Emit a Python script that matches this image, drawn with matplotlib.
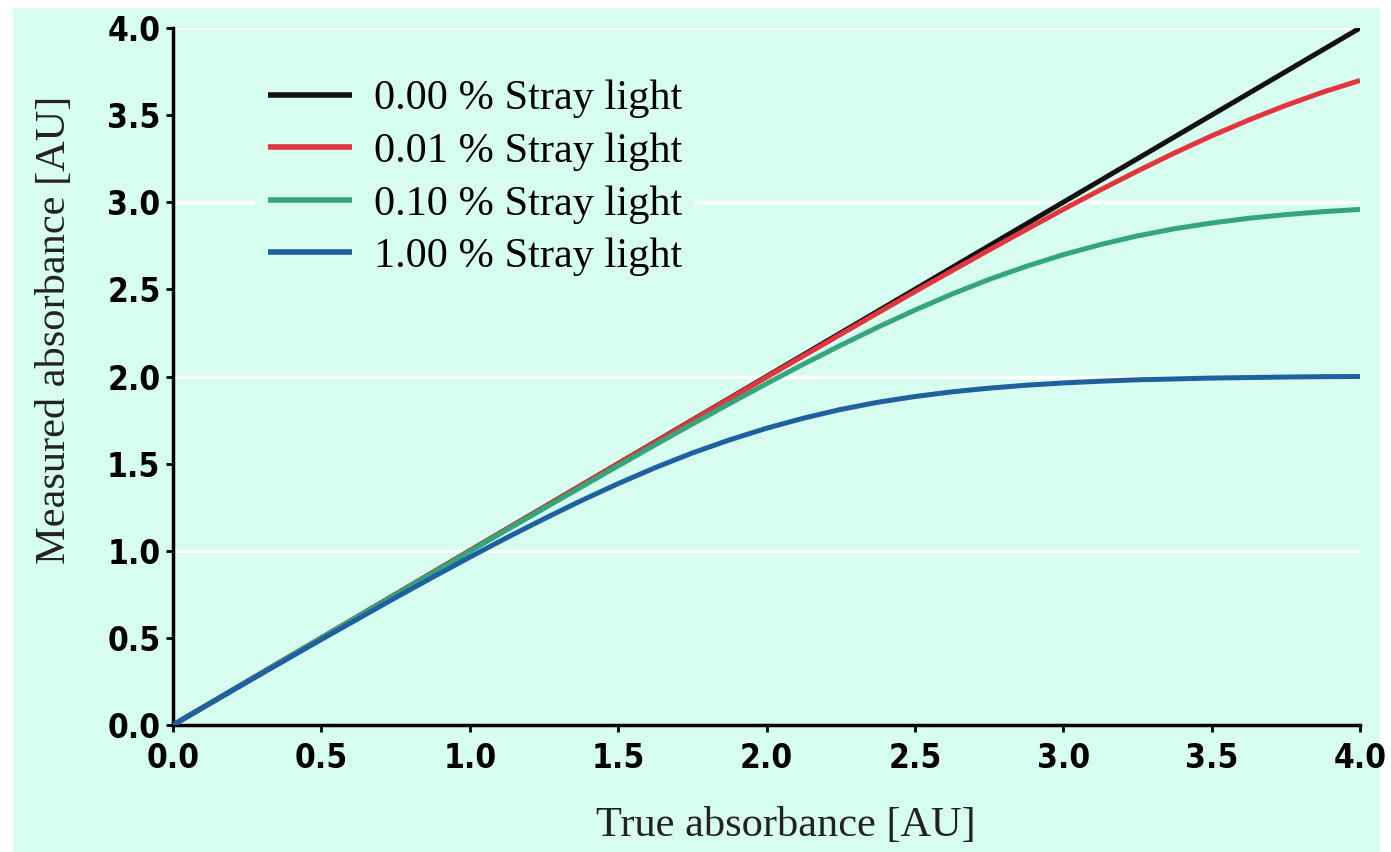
import matplotlib
matplotlib.use("Agg")
import matplotlib.pyplot as plt
from matplotlib import font_manager as fm
from matplotlib.patches import Rectangle

# values
true_abs = [0.0, 0.125, 0.25, 0.375, 0.5, 0.625, 0.75, 0.875, 1.0, 1.125,
            1.25, 1.375, 1.5, 1.625, 1.75, 1.875, 2.0, 2.125, 2.25, 2.375,
            2.5, 2.625, 2.75, 2.875, 3.0, 3.125, 3.25, 3.375, 3.5, 3.625,
            3.75, 3.875, 4.0]
stray_000 = [0.0, 0.125, 0.25, 0.375, 0.5, 0.625, 0.75, 0.875, 1.0, 1.125,
             1.25, 1.375, 1.5, 1.625, 1.75, 1.875, 2.0, 2.125, 2.25, 2.375,
             2.5, 2.625, 2.75, 2.875, 3.0, 3.125, 3.25, 3.375, 3.5, 3.625,
             3.75, 3.875, 4.0]
stray_001 = [0.0, 0.125, 0.25, 0.375, 0.5, 0.625, 0.75, 0.875, 1.0, 1.125,
             1.249, 1.374, 1.499, 1.623, 1.748, 1.872, 1.996, 2.119, 2.242,
             2.365, 2.487, 2.607, 2.726, 2.843, 2.959, 3.071, 3.179, 3.283,
             3.381, 3.472, 3.556, 3.632, 3.699]
stray_010 = [0.0, 0.125, 0.250, 0.374, 0.499, 0.624, 0.748, 0.872, 0.996,
             1.120, 1.243, 1.365, 1.487, 1.608, 1.727, 1.844, 1.959, 2.071,
             2.179, 2.283, 2.381, 2.473, 2.557, 2.632, 2.699, 2.757, 2.807,
             2.848, 2.881, 2.908, 2.929, 2.946, 2.959]
stray_100 = [0.0, 0.124, 0.247, 0.369, 0.491, 0.611, 0.731, 0.848, 0.963,
             1.075, 1.183, 1.287, 1.385, 1.477, 1.561, 1.636, 1.703, 1.761,
             1.811, 1.852, 1.885, 1.912, 1.933, 1.950, 1.963, 1.973, 1.981,
             1.986, 1.991, 1.994, 1.997, 1.999, 2.000]

labels = ["0.00 % Stray light", "0.01 % Stray light",
          "0.10 % Stray light", "1.00 % Stray light"]
colors = ["#111111", "#e2363c", "#35a67c", "#1f61a0"]
series = [stray_000, stray_001, stray_010, stray_100]

ticks = [0.0, 0.5, 1.0, 1.5, 2.0, 2.5, 3.0, 3.5, 4.0]
tick_labels = ["0.0", "0.5", "1.0", "1.5", "2.0", "2.5", "3.0", "3.5", "4.0"]

mint = "#d7fcf0"
serif = ["Liberation Serif", "DejaVu Serif"]

# condensed bold face for the tick numbers, if one is installed
tick_font = None
for key in ["LiberationSansNarrow-Bold.", "DejaVuSansCondensed-Bold.",
            "Condensed-Bold.", "Narrow-Bold."]:
    hits = [f.fname for f in fm.fontManager.ttflist if key in f.fname]
    if hits:
        tick_font = fm.FontProperties(fname=hits[0], size=24)
        break
if tick_font is None:
    tick_font = fm.FontProperties(family="DejaVu Sans", weight="bold",
                                  stretch="condensed", size=24)

fig = plt.figure(figsize=(13.91, 8.52), dpi=100)
fig.patch.set_facecolor("white")
fig.patches.append(Rectangle((13 / 1391, 0), (1380 - 13) / 1391, 1 - 8 / 852,
                             transform=fig.transFigure, facecolor=mint,
                             edgecolor="none", zorder=-10))

ax = fig.add_axes([173 / 1391, 1 - 725 / 852, (1360 - 173) / 1391, (725 - 28) / 852])
ax.set_facecolor(mint)

for yv in [1.0, 2.0, 3.0, 4.0]:
    ax.axhline(yv, color="white", lw=2.5, zorder=1)

for ys, c, lab in zip(series, colors, labels):
    ax.plot(true_abs, ys, color=c, lw=3.6, label=lab, zorder=3,
            solid_capstyle="butt")

ax.set_xlim(0, 4)
ax.set_ylim(0, 4)
ax.set_xticks(ticks)
ax.set_yticks(ticks)
ax.set_xticklabels(tick_labels, fontproperties=tick_font)
ax.set_yticklabels(tick_labels, fontproperties=tick_font)
ax.tick_params(direction="out", length=5, width=2, color="black")
ax.tick_params(axis="x", pad=7)
ax.tick_params(axis="y", pad=4)

for side in ["top", "right"]:
    ax.spines[side].set_visible(False)
for side in ["left", "bottom"]:
    ax.spines[side].set_linewidth(2.5)
    ax.spines[side].set_color("black")

ax.set_xlabel("True absorbance [AU]", family=serif, fontsize=30.5,
              color="#222222", va="center", ha="center")
ax.xaxis.set_label_coords((786 - 173) / 1187, (725 - 826) / 697)
ax.set_ylabel("Measured absorbance [AU]", family=serif, fontsize=30.5,
              color="#222222", va="center", ha="center")
ax.yaxis.set_label_coords((55 - 173) / 1187, (725 - 330) / 697)

leg = ax.legend(loc="upper left", bbox_to_anchor=(255 / 1391, 1 - 67 / 852),
                bbox_transform=fig.transFigure, frameon=True, fancybox=False,
                facecolor=mint, edgecolor="none", framealpha=1,
                prop={"family": serif, "size": 30.5}, handlelength=1.98,
                handletextpad=0.54, labelspacing=0.33, borderpad=0.3,
                borderaxespad=0)
leg.set_zorder(2)
for line in leg.get_lines():
    line.set_linewidth(4)

fig.savefig("out.png", dpi=100, facecolor=fig.get_facecolor())
